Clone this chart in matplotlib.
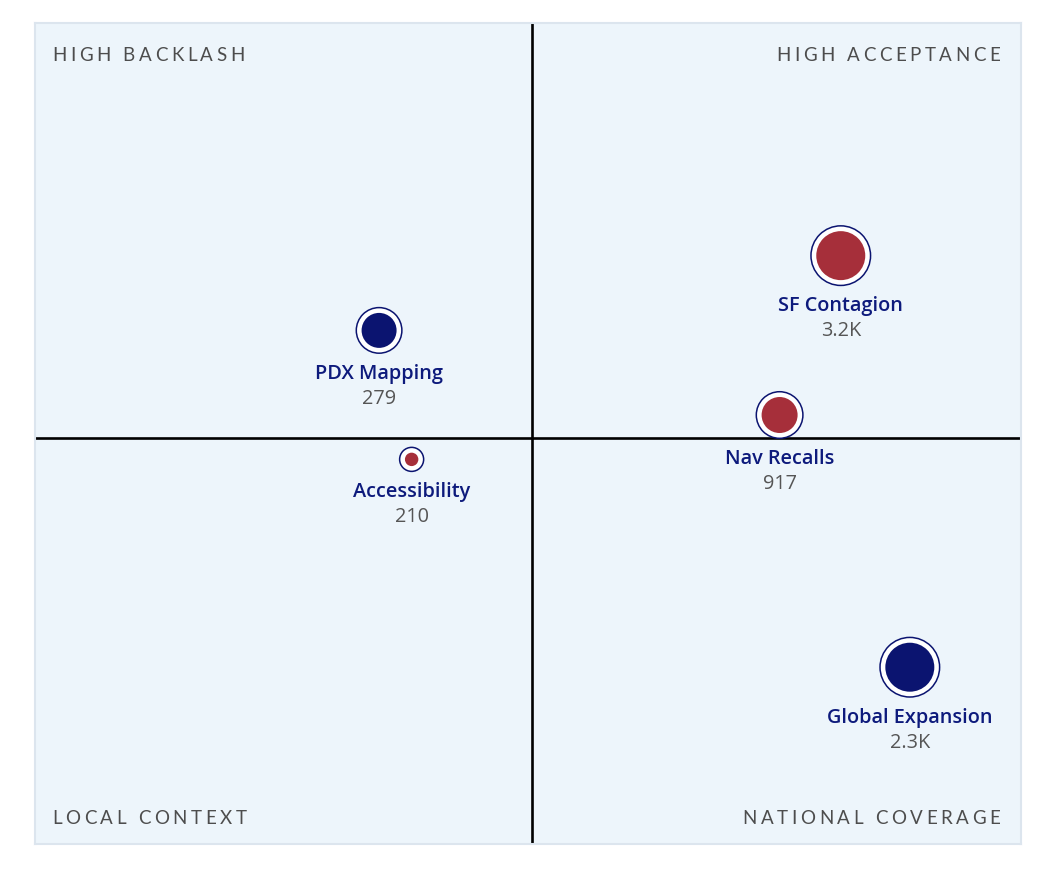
import numpy as np
import matplotlib.pyplot as plt
from matplotlib import transforms
from matplotlib.font_manager import FontProperties

# ============================================================
# DATA
# ============================================================
names = ['SF Contagion', 'PDX Mapping', 'Nav Recalls', 'Accessibility', 'Global Expansion']
value_labels = ['3.2K', '279', '917', '210', '2.3K']
x_score = [0.813, 0.345, 0.751, 0.378, 0.883]      # local -> national
y_score = [0.722, 0.631, 0.528, 0.474, 0.221]      # backlash -> acceptance
reach = [600, 306, 324, 45, 600]                   # bubble area metric
group = ['red', 'navy', 'red', 'red', 'navy']

quadrant_labels = {
    'tl': 'HIGH BACKLASH',
    'tr': 'HIGH ACCEPTANCE',
    'bl': 'LOCAL CONTEXT',
    'br': 'NATIONAL COVERAGE',
}

# ============================================================
# STYLE
# ============================================================
NAVY = '#0b1470'
RED = '#a62f3a'
TEXT_NAVY = '#0d1a7c'
GRAY = '#4d4d4d'
BG = '#edf5fb'
BORDER = '#dce5ee'
FONT = ['Lato', 'DejaVu Sans']
LABEL_FONT = ['Open Sans', 'DejaVu Sans']
PX = 72 / 100  # points per pixel at dpi 100

plt.rcParams['font.family'] = FONT

W, H = 1050, 870
fig = plt.figure(figsize=(W / 100, H / 100), dpi=100)
ax = fig.add_axes([34.5 / W, 25 / H, 986.5 / W, 821.5 / H])
ax.set_facecolor(BG)
for sp in ax.spines.values():
    sp.set_color(BORDER)
    sp.set_linewidth(1.5)
ax.set_xticks([])
ax.set_yticks([])
ax.set_xlim(-0.0043, 0.9957)
ax.set_ylim(0.0058, 1.0058)

# quadrant dividers
ax.axvline(0.5, color='black', lw=1.9, zorder=1)
ax.axhline(0.5, color='black', lw=1.9, zorder=1)

colors = {'red': RED, 'navy': NAVY}
r_inner = np.sqrt(np.array(reach, dtype=float))   # px
r_ring = r_inner + 5.3

ax.scatter(x_score, y_score, s=(2 * r_ring * PX) ** 2, facecolor='white',
           edgecolor=NAVY, linewidth=1.1, zorder=3)
ax.scatter(x_score, y_score, s=(2 * r_inner * PX) ** 2,
           c=[colors[g] for g in group], linewidth=0, zorder=4)

for i in range(len(names)):
    off = (r_ring[i] + 25) * PX
    ax.annotate(names[i], (x_score[i], y_score[i]), xytext=(0, -off),
                textcoords='offset points', ha='center', va='baseline',
                fontsize=14.3, color=TEXT_NAVY, fontweight='semibold',
                family=LABEL_FONT, zorder=5)
    ax.annotate(value_labels[i], (x_score[i], y_score[i]), xytext=(0, -off - 25 * PX),
                textcoords='offset points', ha='center', va='baseline',
                fontsize=14.3, color='#555555', family=LABEL_FONT, zorder=5)

# ============================================================
# LETTER-SPACED CORNER LABELS
# ============================================================
fp = FontProperties(family=FONT, size=13.5)
renderer = fig.canvas.get_renderer()


def char_w(ch):
    w1 = renderer.get_text_width_height_descent('H' + ch + 'H', fp, ismath=False)[0]
    w0 = renderer.get_text_width_height_descent('HH', fp, ismath=False)[0]
    return w1 - w0


def spaced_label(text, ax_x, ax_y, dx_px, dy_px, ha, spacing=3.6):
    widths = [char_w(c) for c in text]
    total = sum(widths) + spacing * (len(text) - 1)
    start = dx_px if ha == 'left' else dx_px - total
    pos = start
    for c, w in zip(text, widths):
        tr = ax.transAxes + transforms.ScaledTranslation(pos / 100, dy_px / 100,
                                                         fig.dpi_scale_trans)
        ax.text(ax_x, ax_y, c, transform=tr, ha='left', va='baseline',
                fontproperties=fp, color=GRAY)
        pos += w + spacing


spaced_label(quadrant_labels['tl'], 0, 1, 17.5, -37.5, 'left')
spaced_label(quadrant_labels['tr'], 1, 1, -20.5, -37.5, 'right')
spaced_label(quadrant_labels['bl'], 0, 0, 17.5, 21, 'left')
spaced_label(quadrant_labels['br'], 1, 0, -20.5, 21, 'right')

plt.savefig('out.png', dpi=100, facecolor='white')
plt.close()
